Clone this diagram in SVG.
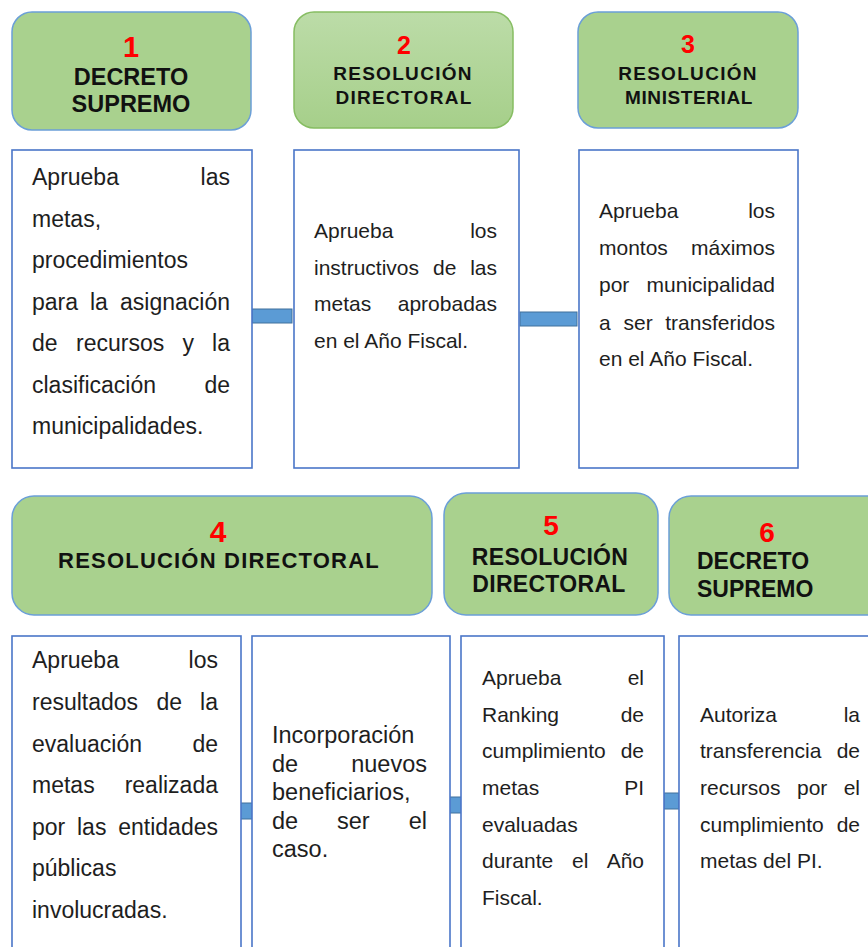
<svg xmlns="http://www.w3.org/2000/svg" width="868" height="947" viewBox="0 0 868 947">
<defs>
<linearGradient id="g2" x1="0" y1="0" x2="0" y2="1">
<stop offset="0" stop-color="#bcdca8"/>
<stop offset="1" stop-color="#a6cf8a"/>
</linearGradient>
<style>
.hdr{fill:#a9d18e;stroke:#6b9fd8;stroke-width:1.5}
.hdr2{fill:url(#g2);stroke:#86bd62;stroke-width:1.5}
.box{fill:#ffffff;stroke:#4a76c8;stroke-width:1.6}
.con{fill:#5b9bd5;stroke:#41719c;stroke-width:1}
.num{font-family:"Liberation Sans",Arial,sans-serif;font-weight:bold;fill:#ff0000;text-anchor:middle}
.ht{font-family:"Liberation Sans",Arial,sans-serif;font-weight:bold;fill:#111111}
.t{font-family:"Liberation Sans",Arial,sans-serif;fill:#1e1e1e}
.e{text-anchor:end}
.f23{font-size:23px}
.f21{font-size:21px}
.f235{font-size:23.5px}
</style>
</defs>

<g id="connectors">
<rect class="con" x="252" y="309" width="40" height="14"/>
<rect class="con" x="520" y="312" width="57" height="14"/>
<rect class="con" x="239" y="803" width="15" height="16"/>
<rect class="con" x="448" y="797" width="15" height="16"/>
<rect class="con" x="664" y="793" width="15" height="16"/>
</g>

<g id="h1">
<rect class="hdr" x="12" y="12" width="239" height="118" rx="20"/>
<text class="num" x="131" y="57" font-size="29">1</text>
<text class="ht" x="131" y="85" font-size="23.5" text-anchor="middle">DECRETO</text>
<text class="ht" x="131" y="112" font-size="23.5" text-anchor="middle">SUPREMO</text>
</g>
<g id="h2">
<rect class="hdr2" x="294" y="12" width="219" height="116" rx="20"/>
<text class="num" x="404" y="54" font-size="25">2</text>
<text class="ht" x="403" y="80" font-size="19" letter-spacing="1.3" text-anchor="middle">RESOLUCIÓN</text>
<text class="ht" x="404" y="104" font-size="19" letter-spacing="1.3" text-anchor="middle">DIRECTORAL</text>
</g>
<g id="h3">
<rect class="hdr" x="578" y="12" width="220" height="116" rx="20"/>
<text class="num" x="688" y="53" font-size="25">3</text>
<text class="ht" x="688" y="80" font-size="19" letter-spacing="1.3" text-anchor="middle">RESOLUCIÓN</text>
<text class="ht" x="689" y="104" font-size="19" letter-spacing="0.6" text-anchor="middle">MINISTERIAL</text>
</g>

<g id="b1">
<rect class="box" x="12" y="150" width="240" height="318"/>
<text class="t f23" x="32" y="185">Aprueba</text><text class="t f23 e" x="230" y="185">las</text>
<text class="t f23" x="32" y="226.5">metas,</text>
<text class="t f23" x="32" y="268">procedimientos</text>
<text class="t f23" x="32" y="309.5">para</text><text class="t f23" x="90" y="309.5">la</text><text class="t f23 e" x="230" y="309.5">asignación</text>
<text class="t f23" x="32" y="351">de</text><text class="t f23" x="76" y="351">recursos</text><text class="t f23" x="182.5" y="351">y</text><text class="t f23 e" x="230" y="351">la</text>
<text class="t f23" x="32" y="392.5">clasificación</text><text class="t f23 e" x="230" y="392.5">de</text>
<text class="t f23" x="32" y="434">municipalidades.</text>
</g>

<g id="b2">
<rect class="box" x="294" y="150" width="225" height="318"/>
<text class="t f21" x="314" y="238">Aprueba</text><text class="t f21 e" x="497" y="238">los</text>
<text class="t f21" x="314" y="275">instructivos</text><text class="t f21" x="433" y="275">de</text><text class="t f21 e" x="497" y="275">las</text>
<text class="t f21" x="314" y="311">metas</text><text class="t f21 e" x="497" y="311">aprobadas</text>
<text class="t f21" x="314" y="348">en el Año Fiscal.</text>
</g>

<g id="b3">
<rect class="box" x="579" y="150" width="219" height="318"/>
<text class="t f21" x="599" y="218">Aprueba</text><text class="t f21 e" x="775" y="218">los</text>
<text class="t f21" x="599" y="255">montos</text><text class="t f21 e" x="775" y="255">máximos</text>
<text class="t f21" x="599" y="292">por</text><text class="t f21 e" x="775" y="292">municipalidad</text>
<text class="t f21" x="599" y="330">a</text><text class="t f21" x="623.5" y="330">ser</text><text class="t f21 e" x="775" y="330">transferidos</text>
<text class="t f21" x="599" y="366">en el Año Fiscal.</text>
</g>

<g id="h4">
<rect class="hdr" x="12" y="496" width="420" height="119" rx="22"/>
<text class="num" x="218" y="542" font-size="30">4</text>
<text class="ht" x="219" y="568" font-size="22" letter-spacing="1.2" text-anchor="middle">RESOLUCIÓN DIRECTORAL</text>
</g>
<g id="h5">
<rect class="hdr" x="444" y="493" width="214" height="122" rx="22"/>
<text class="num" x="551" y="535" font-size="28">5</text>
<text class="ht" x="550" y="565" font-size="23" letter-spacing="0.3" text-anchor="middle">RESOLUCIÓN</text>
<text class="ht" x="549" y="592" font-size="23" letter-spacing="0.3" text-anchor="middle">DIRECTORAL</text>
</g>
<g id="h6">
<rect class="hdr" x="669" y="496" width="220" height="119" rx="22"/>
<text class="num" x="767" y="542" font-size="28">6</text>
<text class="ht" x="697" y="569" font-size="23">DECRETO</text>
<text class="ht" x="697" y="597" font-size="23">SUPREMO</text>
</g>

<g id="b4a">
<rect class="box" x="12" y="636" width="229" height="330"/>
<text class="t f23" x="32" y="668">Aprueba</text><text class="t f23 e" x="218" y="668">los</text>
<text class="t f23" x="32" y="710">resultados</text><text class="t f23" x="156.5" y="710">de</text><text class="t f23 e" x="218" y="710">la</text>
<text class="t f23" x="32" y="752">evaluación</text><text class="t f23 e" x="218" y="752">de</text>
<text class="t f23" x="32" y="793">metas</text><text class="t f23 e" x="218" y="793">realizada</text>
<text class="t f23" x="32" y="835">por</text><text class="t f23" x="77" y="835">las</text><text class="t f23 e" x="218" y="835">entidades</text>
<text class="t f23" x="32" y="876">públicas</text>
<text class="t f23" x="32" y="918">involucradas.</text>
</g>

<g id="b4b">
<rect class="box" x="252" y="636" width="198" height="330"/>
<text class="t f235" x="272" y="743">Incorporación</text>
<text class="t f235" x="272" y="771.5">de</text><text class="t f235 e" x="427" y="771.5">nuevos</text>
<text class="t f235" x="272" y="800">beneficiarios,</text>
<text class="t f235" x="272" y="828.5">de</text><text class="t f235" x="337" y="828.5">ser</text><text class="t f235 e" x="427" y="828.5">el</text>
<text class="t f235" x="272" y="857">caso.</text>
</g>

<g id="b5">
<rect class="box" x="461" y="636" width="203" height="330"/>
<text class="t f21" x="482" y="685">Aprueba</text><text class="t f21 e" x="644" y="685">el</text>
<text class="t f21" x="482" y="722">Ranking</text><text class="t f21 e" x="644" y="722">de</text>
<text class="t f21" x="482" y="758">cumplimiento</text><text class="t f21 e" x="644" y="758">de</text>
<text class="t f21" x="482" y="795">metas</text><text class="t f21 e" x="644" y="795">PI</text>
<text class="t f21" x="482" y="832">evaluadas</text>
<text class="t f21" x="482" y="868">durante</text><text class="t f21" x="572" y="868">el</text><text class="t f21 e" x="644" y="868">Año</text>
<text class="t f21" x="482" y="905">Fiscal.</text>
</g>

<g id="b6">
<rect class="box" x="679" y="636" width="210" height="330"/>
<text class="t f21" x="700" y="722">Autoriza</text><text class="t f21 e" x="860" y="722">la</text>
<text class="t f21" x="700" y="758">transferencia</text><text class="t f21 e" x="860" y="758">de</text>
<text class="t f21" x="700" y="795">recursos</text><text class="t f21" x="797" y="795">por</text><text class="t f21 e" x="860" y="795">el</text>
<text class="t f21" x="700" y="832">cumplimiento</text><text class="t f21 e" x="860" y="832">de</text>
<text class="t f21" x="700" y="868">metas del PI.</text>
</g>
</svg>
